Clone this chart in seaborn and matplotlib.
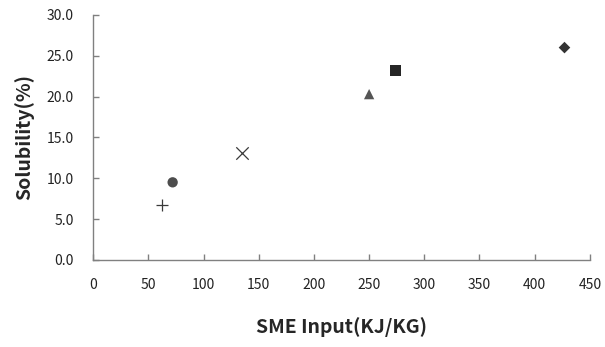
import numpy as np
import pandas as pd
import matplotlib
matplotlib.use("Agg")
import matplotlib.pyplot as plt
import seaborn as sns
from matplotlib.ticker import FormatStrFormatter

# Data
sme_input = [62, 72, 135, 250, 274, 427]
solubility = [6.7, 9.5, 13.1, 20.3, 23.2, 26.0]
samples = ["A", "B", "C", "D", "E", "F"]
marker_map = {"A": "+", "B": "o", "C": "x", "D": "^", "E": "s", "F": "D"}
size_map = {"A": 70, "B": 55, "C": 80, "D": 55, "E": 60, "F": 35}
color_map = {"A": "#3a3a3a", "B": "#4d4d4d", "C": "#3a3a3a", "D": "#555555", "E": "#262626", "F": "#333333"}

sns.set_style("white")
plt.rcParams['font.family'] = ['Noto Sans CJK KR', 'DejaVu Sans']

df = pd.DataFrame({"x": sme_input, "y": solubility, "s": samples})

fig = plt.figure(figsize=(6.05, 3.47), dpi=100)
ax = fig.add_axes([0.154, 0.251, 0.821, 0.706])

for s in samples:
    sub = df[df["s"] == s]
    sns.scatterplot(data=sub, x="x", y="y", marker=marker_map[s], s=size_map[s],
                    color=color_map[s], edgecolor=color_map[s] if marker_map[s] in "+x" else "none",
                    linewidth=0.9 if marker_map[s] in "+x" else 0, ax=ax, legend=False)

ax.set_xlim(0, 450)
ax.set_ylim(0, 30)
ax.set_xticks(np.arange(0, 451, 50))
ax.set_yticks(np.arange(0, 30.1, 5))
ax.yaxis.set_major_formatter(FormatStrFormatter("%.1f"))

for side in ["top", "right"]:
    ax.spines[side].set_visible(False)
for side in ["left", "bottom"]:
    ax.spines[side].set_color("#808080")
    ax.spines[side].set_linewidth(1.0)

ax.tick_params(axis="x", bottom=True, direction="in", length=4, width=1, color="#808080",
               pad=13, labelsize=10, labelcolor="#222222")
ax.tick_params(axis="y", left=True, direction="in", length=4, width=1, color="#808080",
               pad=14, labelsize=10, labelcolor="#222222")

ax.set_xlabel("SME Input(KJ/KG)", fontsize=14, fontweight="bold", labelpad=18)
ax.set_ylabel("Solubility(%)", fontsize=14, fontweight="bold", labelpad=9)

fig.savefig("out.png", dpi=100)
